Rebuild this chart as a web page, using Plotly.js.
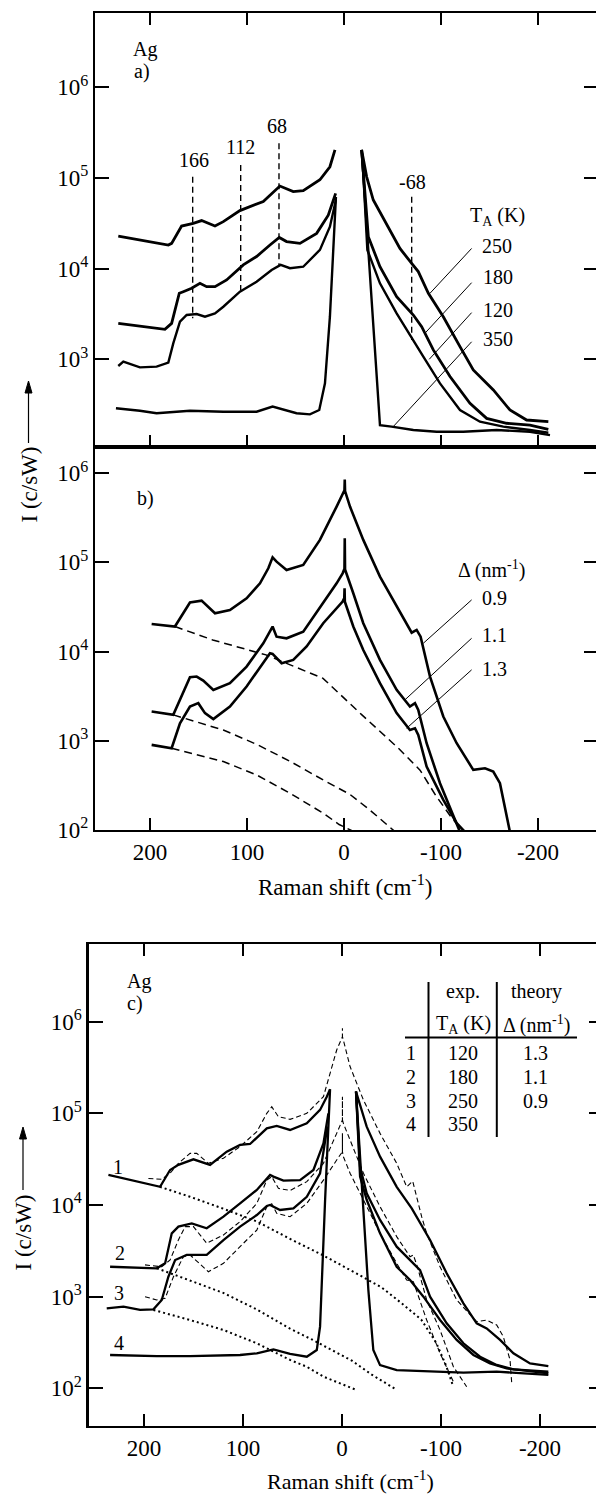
<!DOCTYPE html>
<html><head><meta charset="utf-8">
<script src="https://cdn.plot.ly/plotly-3.0.1.min.js"></script>
<style>
html,body{margin:0;padding:0;overflow:hidden;background:#fff}
#chart svg text{font-family:"Liberation Serif","Times New Roman",Times,"DejaVu Serif",serif !important;}
</style>
</head><body><div id="chart" style="width:610px;height:1494px"></div>
<script>
// ---------------- data (Raman shift in cm^-1, intensity in c/sW) ----------------
// Panel a: experimental spectra at annealing temperatures T_A
const a250_x = [232.7,210.4,181.1,177.7,167.4,155.4,146.8,133,124.4,107.3,83.2,66.1,52.3,42,24.8,14.5,9.3,null,-18.2,-23.4,-30.2,-44,-57.7,-69.8,-76.6,-87,-102.4,-119.6,-133.3,-154,-171.1,-188.3,-210.7];
const a250_y = [22900,20700,18200,19000,29500,31600,33900,29500,33000,43700,55000,81500,70800,72400,95500,133000,204000,null,204000,103000,57100,30300,16700,11400,9270,5350,2950,1380,762,459,276,214,205];
const a180_x = [232.7,210.4,184.6,177.7,169.8,165.7,157.1,148.5,141.6,133,121,103.8,90.1,76.3,66.7,59.2,45.4,28.2,16.2,8.6,null,-18.2,-19.9,-25.1,-37.1,-54.3,-71.5,-80.1,-92.1,-109.3,-129.9,-147.1,-167.7,-191.8,-210.7];
const a180_y = [2490,2330,2140,2490,5350,5570,6070,6890,6320,6320,7500,11000,13600,18200,22100,19900,19000,24500,38900,67600,null,204000,112000,22500,10500,4910,3080,2290,1270,646,327,223,197,188,169];
const a120_x = [232.7,227.5,210.4,193.2,181.1,176,169.1,162.2,151.9,143.3,133,124.4,107.3,90.1,74.6,65.3,55.7,42,24.8,14.5,8.3,null,-18.2,-19.9,-24.1,-37.1,-54.3,-69.8,-81.8,-99,-119.6,-140.2,-164.3,-191.8,-210.7];
const a120_y = [843,942,815,830,918,1500,2600,3080,3160,2950,3210,3800,5570,7180,9660,11000,10100,10500,16100,29000,57500,null,204000,112000,16100,6890,3210,1700,1070,543,276,205,181,166,155];
const a350_x = [235.1,210.4,193.2,158.8,124.4,90.1,73.6,62.6,48.9,35.1,25.5,19.6,14.5,8.3,null,-18.2,-37.1,-49.1,-71.5,-95.5,-123,-157.4,-191.8,-212.4];
const a350_y = [288,271,254,271,264,264,301,281,254,247,276,543,2950,61700,null,204000,188,181,166,159,159,166,159,146];
// phonon marker lines (labels 166, 112, 68, -68)
const markLabels = ['166','112','68','-68'];
const markX   = [156, 106.5, 67, -69.8];
const markTop = [103000, 139000, 241000, 62100];
const markBot = [2830, 5810, 11000, 1630];
// T_A legend
const tempLabels = ['250','180','120','350'];
const leadA_x0 = [-131.6,-131.6,-131.6,-131.6];
const leadA_y0 = [16700,7000,3270,1560];
const leadA_x1 = [-88.7,-83.5,-87.9,-50.8];
const leadA_y1 = [5350,1940,1000,181];

// Panel b: theory for three Delta values
const b09_x = [198.3,174.3,158.8,146.8,133,117.6,100.4,86.6,78,73.6,69.5,59.2,42,24.8,7.6,1.4,-0.5,-0.8,-1.1,-6.2,-19.9,-37.1,-54.3,-69.8,-74.9,-79,-88.7,-102.4,-116.2,-133.3,-145.4,-153.9,-160.8,-166,-171.1];
const b09_y = [20400,19100,35500,37300,26900,29300,39600,58300,85900,114000,102000,82400,93800,179000,423000,596000,646000,851000,631000,423000,179000,69300,32000,16300,17500,14700,5250,1870,938,472,492,452,334,168,95];
const b11_x = [198.3,176,158.8,151.9,145.1,134.7,117.6,100.4,83.2,76.3,73.6,69.5,59.2,42,21.4,7.6,1.4,-0.5,-0.8,-1.1,-9.6,-19.9,-37.1,-54.3,-68,-73.2,-76.6,-85.2,-99,-112.7,-119.6];
const b11_y = [2130,1950,5150,5250,4730,3720,4420,6790,12400,16700,19100,14700,14100,16700,34800,58300,75500,85100,187000,83200,45100,20800,8070,3720,2420,2640,2220,938,334,141,95];
const b13_x = [198.3,177.7,169.1,158.8,150.2,143.3,134.7,117.6,100.4,83.2,76.3,73.6,64.3,52.3,38.5,21.4,7.6,1.4,-0.3,-0.6,-0.9,-9.6,-19.9,-37.1,-54.3,-68,-73.2,-76.6,-85.2,-102.4,-116.2,-124.7];
const b13_y = [899,824,1570,2420,2640,2040,1750,2420,4060,7400,9590,9420,7400,8070,11400,20800,30600,36400,39800,51300,36300,19100,10400,4420,2040,1320,1380,1160,514,217,119,95];
const bd09_x = [174.3,135.3,80.4,21.6,-18.5,-55.7,-78.4,-95,-112,-125];
const bd09_y = [19100,13500,9180,5010,1950,832,468,240,132,95];
const bd11_x = [176,124.4,90.1,55.7,21.4,-6,-27,-52.9];
const bd11_y = [1950,1320,912,589,363,251,166,95];
const bd13_x = [177.7,124.4,90.1,55.7,21.4,5,-10.8];
const bd13_y = [824,585,414,258,154,115,95];
const deltaLabels = ['0.9','1.1','1.3'];
const leadB_x0 = [-131.6,-131.6,-131.6];
const leadB_y0 = [38000,14100,6240];
const leadB_x1 = [-81.8,-62.9,-64.6];
const leadB_y1 = [12400,2880,1380];

// Panel c: experiment (solid), theory (dashed), background (dotted)
const c1_x = [236,214.1,183.8,173.7,165.3,150.1,133.3,116.5,103,92.9,76,66,52.5,35.6,22.2,15.4,12.1,null,-14.1,-24.9,-38.4,-55.2,-70.4,-88.9,-105.7,-122.6,-136,-146.1,-159.6,-173.1,-189.9,-208.4];
const c1_y = [21300,18700,15800,24100,27400,31500,27400,38200,45200,46300,68700,72800,65900,77800,109000,152000,183000,null,173000,71600,33700,15800,9200,4150,1800,845,512,451,337,241,187,175];
const c2_x = [234.3,187.2,178.7,172,165.3,151.8,136.7,119.8,103,86.1,72.7,69.3,59.2,42.4,28.9,18.8,13.8,null,-14.1,-18.2,-24.9,-38.4,-55.2,-68.7,-78.8,-88.9,-105.7,-122.6,-139.4,-156.2,-173.1,-208.4];
const c2_y = [2120,2040,2310,4910,5810,6310,5570,7460,10400,14600,21300,20400,18500,18700,24100,47100,100000,null,173000,26200,13400,6870,3510,2510,1950,1000,512,310,221,180,161,152];
const c3_x = [237.7,220.8,204,190.5,182.1,175.4,168.6,156.9,136.7,119.8,103,86.1,76,72.7,62.6,49.1,35.6,22.2,14.8,null,-14.1,-18.2,-24.9,-38.4,-55.2,-68.7,-82.2,-99,-115.8,-132.7,-149.5,-166.3,-208.4];
const c3_y = [746,778,716,728,920,1650,2510,2850,2850,4150,5810,7780,9750,10000,8830,9200,12300,22200,71600,null,173000,20400,11400,4910,2120,1520,1000,556,337,231,187,165,146];
const c4_x = [234.3,187.2,153.5,103,86.1,69.3,52.5,35.6,25.5,22.2,17.1,12.1,null,-14.1,-26.6,-31.6,-38.4,-55.2,-88.9,-122.6,-156.2,-208.4];
const c4_y = [231,225,225,231,241,266,237,221,262,471,11400,183000,null,173000,1180,262,179,158,152,148,152,140];
const t1_x = [195.6,182.1,173.7,165.3,153.5,146.8,135,119.8,103,86.1,76,71,64.3,52.5,35.6,18.8,5.4,-0.4,-0.4,-0.4,-1.35,-8.1,-21.6,-38.4,-55.2,-65.3,-71.4,-76.1,-80.5,-85.5,-99,-115.8,-136,-146.1,-156.2,-162.9,-169.7,-171.4];
const t1_y = [19500,19100,22200,28500,36600,36600,28500,32400,43400,63100,100000,118000,92000,86100,100000,152000,491000,687000,851000,687000,631000,324000,140000,60500,28500,15800,18200,11200,7410,4900,2120,920,533,556,491,366,204,114];
const t2_x = [199,182.1,173.7,165.3,158.5,150.1,136.7,119.8,103,86.1,76,71,64.3,52.5,35.6,18.8,5.4,-0.4,-0.4,-0.4,-1.35,-8.1,-21.6,-38.4,-55.2,-68.7,-72,-76.1,-85.5,-99,-112.5,-125.9];
const t2_y = [2220,2120,2510,4150,5810,5810,3820,4710,6580,10400,18700,20400,15200,14400,18000,28500,60500,84700,152000,84700,77800,51200,22200,9590,4520,2730,2850,2120,920,433,172,104];
const t3_x = [199,187.2,178.7,170.3,160.2,153.5,135,119.8,103,86.1,76,71,66,52.5,35.6,18.8,5.4,-0.4,-0.4,-0.4,-1.35,-8.1,-21.6,-38.4,-55.2,-65.3,-72,-76.1,-85.5,-99,-113.1];
const t3_y = [1000,920,959,1650,2740,2850,1870,2310,3520,5330,9590,10300,8110,7460,10400,18700,31000,38200,60500,38200,33700,22200,11400,4910,2310,1520,1460,1090,556,241,114];
const d1_x = [184,153.5,120,86,52.5,19,-15,-40,-60,-80,-95,-105,-112];
const d1_y = [15800,12300,9120,6610,4270,2820,1780,1260,851,562,316,178,107];
const d2_x = [187,153.5,120,86,52.5,30,10,-10,-30,-54];
const d2_y = [2040,1510,1100,724,447,339,263,200,141,98];
const d3_x = [190.5,153.5,119.8,86.1,52.5,35.6,18.8,0,-13.5];
const d3_y = [716,556,433,310,204,172,134,112,97];
const curveNums = ['1','2','3','4'];
const tableTA = ['120','180','250','350'];
const tableDelta = ['1.3','1.1','0.9'];

// axis ticks
const xTickVals = [200,100,0,-100,-200];
const xTickText = ['200','100','0','-100','-200'];
const yTickVals = [1e2,1e3,1e4,1e5,1e6];
const yTickText = ['10<sup>2</sup>','10<sup>3</sup>','10<sup>4</sup>','10<sup>5</sup>','10<sup>6</sup>'];

// ---------------- layout helpers ----------------
const W = 610, H = 1494;
const FONT = 'Times New Roman';
const px = X => X / W, py = Y => 1 - Y / H;

function ln(x, y, xa, ya, width, dash) {
  return {type:'scatter', mode:'lines', x:x, y:y, xaxis:xa, yaxis:ya, connectgaps:false,
          hoverinfo:'skip', line:{color:'#000', width:width, dash:dash || 'solid'}};
}
function segs(x0, y0, x1, y1) {
  const x = [], y = [];
  for (let i = 0; i < x0.length; i++) { x.push(x0[i], x1[i], null); y.push(y0[i], y1[i], null); }
  return {x:x, y:y};
}
const marks = segs(markX, markTop, markX, markBot);
const leadA = segs(leadA_x0, leadA_y0, leadA_x1, leadA_y1);
const leadB = segs(leadB_x0, leadB_y0, leadB_x1, leadB_y1);

const data = [
  ln(a250_x, a250_y, 'x', 'y', 2.8), ln(a180_x, a180_y, 'x', 'y', 2.8),
  ln(a120_x, a120_y, 'x', 'y', 2.4), ln(a350_x, a350_y, 'x', 'y', 2.4),
  ln(marks.x, marks.y, 'x', 'y', 1.4, '6px,4px'),
  ln(leadA.x, leadA.y, 'x', 'y', 1),
  ln(b09_x, b09_y, 'x2', 'y2', 2.6), ln(b11_x, b11_y, 'x2', 'y2', 2.6), ln(b13_x, b13_y, 'x2', 'y2', 2.6),
  ln(bd09_x, bd09_y, 'x2', 'y2', 1.5, '8px,5px'), ln(bd11_x, bd11_y, 'x2', 'y2', 1.5, '8px,5px'),
  ln(bd13_x, bd13_y, 'x2', 'y2', 1.5, '8px,5px'),
  ln(leadB.x, leadB.y, 'x2', 'y2', 1),
  ln(c1_x, c1_y, 'x3', 'y3', 2.3), ln(c2_x, c2_y, 'x3', 'y3', 2.3),
  ln(c3_x, c3_y, 'x3', 'y3', 2.3), ln(c4_x, c4_y, 'x3', 'y3', 2.3),
  ln(t1_x, t1_y, 'x3', 'y3', 1.1, '5px,3px'), ln(t2_x, t2_y, 'x3', 'y3', 1.1, '5px,3px'),
  ln(t3_x, t3_y, 'x3', 'y3', 1.1, '5px,3px'),
  ln(d1_x, d1_y, 'x3', 'y3', 2, '2px,3px'), ln(d2_x, d2_y, 'x3', 'y3', 2, '2px,3px'),
  ln(d3_x, d3_y, 'x3', 'y3', 2, '2px,3px')
];

const tickFont = {family:FONT, size:23, color:'#000'};
function xax(dom, range, anchor, showLabels, mirror, standoff) {
  return {domain:dom, range:range, anchor:anchor, showline:true, linewidth:2.2, linecolor:'#000',
    mirror:mirror, ticks:'inside', ticklen:12, tickwidth:2, tickcolor:'#000',
    tickvals:xTickVals, ticktext:xTickText, showticklabels:showLabels, ticklabelstandoff:standoff,
    tickfont:tickFont, showgrid:false, zeroline:false, fixedrange:true};
}
function yax(dom, range, anchor) {
  return {domain:dom, type:'log', range:range, anchor:anchor, showline:true, linewidth:2.2, linecolor:'#000',
    mirror:'ticks', ticks:'inside', ticklen:14, tickwidth:2, tickcolor:'#000',
    tickvals:yTickVals, ticktext:yTickText, tickfont:tickFont, showgrid:false, zeroline:false, fixedrange:true};
}

function txt(X, Y, text, opt) {
  opt = opt || {};
  return {xref:'paper', yref:'paper', x:px(X), y:py(Y), text:text, showarrow:false,
    xanchor:opt.xa || 'center', yanchor:'middle', textangle:opt.angle || 0,
    font:{family:FONT, size:opt.size || 20, color:'#000'}};
}
function sline(X0, Y0, X1, Y1, w) {
  return {type:'line', xref:'paper', yref:'paper', x0:px(X0), y0:py(Y0), x1:px(X1), y1:py(Y1),
    line:{color:'#000', width:w}};
}
function arrowHead(X, Y) {
  return {type:'path', xref:'paper', yref:'paper', fillcolor:'#000', line:{color:'#000', width:1},
    path:'M' + px(X) + ',' + py(Y) + ' L' + px(X - 3.5) + ',' + py(Y + 12) + ' L' + px(X + 3.5) + ',' + py(Y + 12) + ' Z'};
}

const annotations = [
  // panel a
  txt(131, 50, 'Ag', {xa:'left'}), txt(132, 71.5, 'a)', {xa:'left'}),
  txt(193.8, 160, markLabels[0]), txt(240, 146.7, markLabels[1]), txt(276.7, 126, markLabels[2]),
  txt(412.4, 181.7, markLabels[3]),
  txt(468, 216, 'T<sub>A</sub> (K)', {xa:'left'}),
  txt(480, 245.5, tempLabels[0], {xa:'left'}), txt(481, 277.5, tempLabels[1], {xa:'left'}),
  txt(481, 309.5, tempLabels[2], {xa:'left'}), txt(481, 339.5, tempLabels[3], {xa:'left'}),
  // panel b
  txt(135, 499, 'b)', {xa:'left'}),
  txt(491, 569, '\u0394 (nm<sup>-1</sup>)'),
  txt(480, 597.5, deltaLabels[0], {xa:'left'}), txt(480, 635.5, deltaLabels[1], {xa:'left'}),
  txt(480, 668.5, deltaLabels[2], {xa:'left'}),
  txt(345.5, 885, 'Raman shift (cm<sup>-1</sup>)', {size:23}),
  txt(28.5, 485, 'I (c/sW)', {size:23, angle:-90}),
  // panel c
  txt(125, 981.7, 'Ag', {xa:'left'}), txt(125, 1003.3, 'c)', {xa:'left'}),
  txt(463, 991, 'exp.'), txt(536, 991, 'theory'),
  txt(463.5, 1024, 'T<sub>A</sub> (K)'), txt(536, 1024, '\u0394 (nm<sup>-1</sup>)'),
  txt(410.5, 1053.3, curveNums[0]), txt(410.5, 1077.3, curveNums[1]),
  txt(410.5, 1100.7, curveNums[2]), txt(410.5, 1124, curveNums[3]),
  txt(463, 1053.3, tableTA[0]), txt(463, 1077.3, tableTA[1]), txt(463, 1100.7, tableTA[2]), txt(463, 1124, tableTA[3]),
  txt(535, 1053.3, tableDelta[0]), txt(535, 1077.3, tableDelta[1]), txt(535, 1100.7, tableDelta[2]),
  txt(118, 1167, curveNums[0]), txt(120, 1253, curveNums[1]), txt(119, 1293, curveNums[2]), txt(119, 1343, curveNums[3]),
  txt(350.5, 1480, 'Raman shift (cm<sup>-1</sup>)', {size:22}),
  txt(23, 1232.5, 'I (c/sW)', {size:23, angle:-90})
];

const shapes = [
  sline(405, 1037.5, 577, 1037.5, 2.2),
  sline(428.5, 982, 428.5, 1137, 2),
  sline(496.8, 982, 496.8, 1137, 2),
  sline(28.5, 443, 28.5, 390, 1.2), arrowHead(28.5, 381),
  sline(23, 1190, 23, 1136, 1.2), arrowHead(23, 1127)
];

const layout = {
  width:W, height:H, autosize:false, margin:{l:0, r:0, t:0, b:0, pad:0},
  paper_bgcolor:'#fff', plot_bgcolor:'rgba(0,0,0,0)', showlegend:false,
  font:{family:FONT, color:'#000'},
  xaxis:  xax([px(95), px(598)], [256.7, -261.9], 'y', false, 'ticks', 0),
  yaxis:  yax([py(446.7), py(12.7)], [2.036, 6.823], 'x'),
  xaxis2: xax([px(95), px(598)], [256.7, -261.9], 'y2', true, true, 0),
  yaxis2: yax([py(830), py(446.7)], [1.999, 6.298], 'x2'),
  xaxis3: xax([px(88.6), px(603)], [256, -263.6], 'y3', true, 'ticks', 0),
  yaxis3: yax([py(1425.7), py(944)], [1.592, 6.848], 'x3'),
  annotations:annotations, shapes:shapes
};

Plotly.newPlot('chart', data, layout, {staticPlot:true, displayModeBar:false});
</script></body></html>
